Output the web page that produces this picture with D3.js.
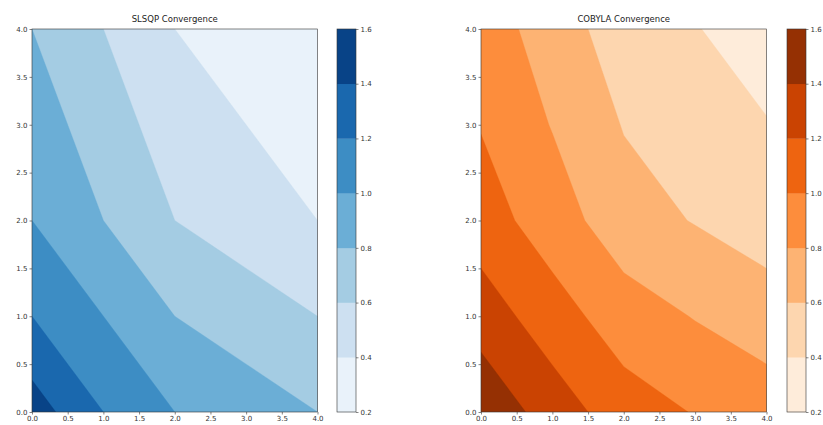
<!DOCTYPE html>
<html><head><meta charset="utf-8">
<script src="https://cdn.jsdelivr.net/npm/d3@7"></script>
<style>
body{margin:0;background:#fff}
svg{display:block}
text{font-family:"DejaVu Sans",sans-serif}
</style>
</head><body>
<svg id="chart" width="823" height="425"></svg>
<script>
// ---- data ----
const gridX = [0, 1, 2, 3, 4];
const gridY = [0, 1, 2, 3, 4];
// rows: y = 0..4, columns: x = 0..4
const slsqpValues = [
  [1.50, 1.20, 1.00, 0.90, 0.80],
  [1.20, 1.00, 0.80, 0.70, 0.60],
  [1.00, 0.80, 0.60, 0.50, 0.40],
  [0.90, 0.70, 0.50, 0.40, 0.35],
  [0.80, 0.60, 0.40, 0.35, 0.30]
];
const cobylaValues = [
  [1.55, 1.31, 1.09, 0.99, 0.90],
  [1.31, 1.085, 0.90, 0.79, 0.70],
  [1.09, 0.90, 0.68, 0.59, 0.50],
  [0.99, 0.79, 0.59, 0.48, 0.41],
  [0.90, 0.71, 0.49, 0.41, 0.30]
];
const levels = [0.2, 0.4, 0.6, 0.8, 1.0, 1.2, 1.4, 1.6];
const xTicks = [0, 0.5, 1, 1.5, 2, 2.5, 3, 3.5, 4];
const yTicks = [0, 0.5, 1, 1.5, 2, 2.5, 3, 3.5, 4];
const titles = ["SLSQP Convergence", "COBYLA Convergence"];
const bluesStops = ["#f7fbff","#deebf7","#c6dbef","#9ecae1","#6baed6","#4292c6","#2171b5","#08519c","#08306b"];
const orangesStops = ["#fff5eb","#fee6ce","#fdd0a2","#fdae6b","#fd8d3c","#f16913","#d94801","#a63603","#7f2704"];

const svg = d3.select("#chart");
const fmt = d3.format(".1f");

const panels = [
  {title: titles[0], values: slsqpValues, stops: bluesStops, left: 32, right: 317.5, cbarX: 337},
  {title: titles[1], values: cobylaValues, stops: orangesStops, left: 481, right: 766.5, cbarX: 787}
];
const plotTop = 29, plotBottom = 412, cbarW = 19;

panels.forEach((p, pi) => {
  const g = svg.append("g");
  const x = d3.scaleLinear().domain([gridX[0], gridX[gridX.length-1]]).range([p.left, p.right]);
  const y = d3.scaleLinear().domain([gridY[0], gridY[gridY.length-1]]).range([plotBottom, plotTop]);
  // grid coordinate (sample i at i+0.5) -> data value
  const gx = d3.scaleLinear().domain([0.5, gridX.length - 0.5]).range([gridX[0], gridX[gridX.length-1]]);
  const gy = d3.scaleLinear().domain([0.5, gridY.length - 0.5]).range([gridY[0], gridY[gridY.length-1]]);
  const nb = levels.length - 1;
  const interp = d3.piecewise(d3.interpolateRgb, p.stops);
  // band colour: colormap at the band midpoint, normalised over the level range
  const cnorm = d3.scaleLinear().domain([levels[0], levels[levels.length-1]]).range([0, 1]);
  const color = k => interp(cnorm((levels[k] + levels[k+1]) / 2));

  const flat = p.values.flat();
  const contours = d3.contours().size([gridX.length, gridY.length]).thresholds(levels.slice(0, -1))(flat);

  const clipId = "clip" + pi;
  g.append("clipPath").attr("id", clipId).append("rect")
    .attr("x", p.left).attr("y", plotTop).attr("width", p.right - p.left).attr("height", plotBottom - plotTop);
  const proj = d3.geoTransform({point(px, py) { this.stream.point(x(gx(px)), y(gy(py))); }});
  const path = d3.geoPath(proj);
  g.append("g").attr("clip-path", `url(#${clipId})`)
    .selectAll("path").data(contours).join("path")
    .attr("d", path)
    .attr("fill-rule", "evenodd")
    .attr("fill", (d, i) => color(i))
    .attr("stroke", (d, i) => color(i))
    .attr("stroke-width", 0.4);

  // axes
  const ax = g.append("g").attr("transform", `translate(0,${plotBottom})`)
    .call(d3.axisBottom(x).tickValues(xTicks).tickFormat(fmt).tickSize(2.5).tickPadding(2).tickSizeOuter(0));
  const ay = g.append("g").attr("transform", `translate(${p.left},0)`)
    .call(d3.axisLeft(y).tickValues(yTicks).tickFormat(fmt).tickSize(2.5).tickPadding(2).tickSizeOuter(0));
  [ax, ay].forEach(a => {
    a.select(".domain").remove();
    a.selectAll("line").attr("stroke", "#333").attr("stroke-width", 0.6);
    a.selectAll("text").attr("font-size", 7).attr("fill", "#333").style("font-family", "DejaVu Sans");
  });
  g.append("rect").attr("x", p.left).attr("y", plotTop).attr("width", p.right - p.left).attr("height", plotBottom - plotTop)
    .attr("fill", "none").attr("stroke", "#333").attr("stroke-width", 0.6);

  // title
  g.append("text").attr("x", (p.left + p.right) / 2).attr("y", 22)
    .attr("text-anchor", "middle").attr("font-size", 8.5).attr("fill", "#222").text(p.title);

  // colorbar
  const yc = d3.scaleLinear().domain([levels[0], levels[levels.length-1]]).range([plotBottom, plotTop]);
  g.append("g").selectAll("rect").data(d3.range(nb)).join("rect")
    .attr("x", p.cbarX).attr("width", cbarW)
    .attr("y", k => yc(levels[k+1])).attr("height", k => yc(levels[k]) - yc(levels[k+1]) + 0.3)
    .attr("fill", k => color(k));
  g.append("rect").attr("x", p.cbarX).attr("y", plotTop).attr("width", cbarW).attr("height", plotBottom - plotTop)
    .attr("fill", "none").attr("stroke", "#333").attr("stroke-width", 0.6);
  const ac = g.append("g").attr("transform", `translate(${p.cbarX + cbarW},0)`)
    .call(d3.axisRight(yc).tickValues(levels).tickFormat(fmt).tickSize(2.5).tickPadding(2).tickSizeOuter(0));
  ac.select(".domain").remove();
  ac.selectAll("line").attr("stroke", "#333").attr("stroke-width", 0.6);
  ac.selectAll("text").attr("font-size", 7).attr("fill", "#333").style("font-family", "DejaVu Sans");
});
</script>
</body></html>
